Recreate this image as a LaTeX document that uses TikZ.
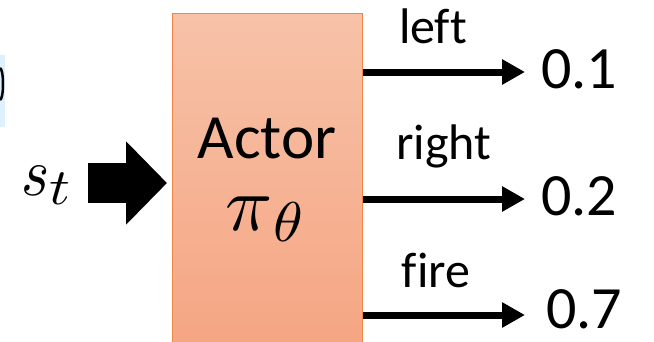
\documentclass[tikz,border=0pt]{standalone}
\usepackage{graphicx}
\usepackage{fontspec}
\newfontfamily\labelfont[Ligatures=NoCommon]{Carlito}
\usetikzlibrary{arrows.meta}
\definecolor{boxtop}{HTML}{F7C2A8}
\definecolor{boxbot}{HTML}{F5A582}
\definecolor{boxedge}{HTML}{EE8746}
\definecolor{fragblue}{HTML}{DDF0FB}
\tikzset{
  actorbox/.style={draw=boxedge, line width=1.2pt, top color=boxtop, bottom color=boxbot,
    minimum width=190pt, minimum height=340pt, inner sep=0pt},
  word/.style={font=\labelfont\fontsize{50}{50}\selectfont, inner sep=0pt, anchor=base},
  prob/.style={font=\labelfont\fontsize{60}{60}\selectfont, inner sep=0pt, text depth=0pt, anchor=base west},
  outarrow/.style={line width=7pt, -{Triangle[length=23pt,width=24pt]}},
  inarrow/.style={line width=40pt, -{Triangle[length=41pt,width=81pt]}, shorten >=5pt},
}
\begin{document}
\begin{tikzpicture}[x=1pt,y=-1pt]
\useasboundingbox (0,0) rectangle (654,341);
\clip (0,0) rectangle (654,341);

% fragment of a neighbouring element at the left edge
\fill[fragblue] (0,55) rectangle (5,127);
\draw[line width=2.5pt] (0,68) arc[start angle=90, end angle=-90, x radius=3pt, y radius=16pt];

% the actor block
\node[actorbox, anchor=north west] (actor) at (172,13) {};
\node[word, font=\labelfont\fontsize{63}{63}\selectfont] (actorname) at (267,158) {Actor};
\node[inner sep=0pt, anchor=base west] (policy) at (225,230)
  {\scalebox{7.8}{$\pi$}\hspace{1pt}\raisebox{-11pt}{\scalebox{6}[5.6]{$\theta$}}};

% input state
\node[inner sep=0pt, anchor=base west] (state) at (21,195)
  {\scalebox{6}[6.8]{$s$}\raisebox{-9pt}{\scalebox{5.8}[5.1]{$t$}}};
\coordinate (instart) at (88,183);
\draw[inarrow] (instart) -- (actor.west |- instart);

% action probabilities
\coordinate (tip1) at (525,72);
\coordinate (tip2) at (525,199);
\coordinate (tip3) at (525,315);
\draw[outarrow] (actor.east |- tip1) -- (tip1);
\draw[outarrow] (actor.east |- tip2) -- (tip2);
\draw[outarrow] (actor.east |- tip3) -- (tip3);

\node[word] (lleft) at (433,43) {left};
\node[word] (lright) at (444,159) {right};
\node[word] (lfire) at (436,287) {fire};

\node[prob] (p1) at (541,88) {0.1};
\node[prob] (p2) at (541,215) {0.2};
\node[prob] (p3) at (546,328) {0.7};
\end{tikzpicture}
\end{document}
